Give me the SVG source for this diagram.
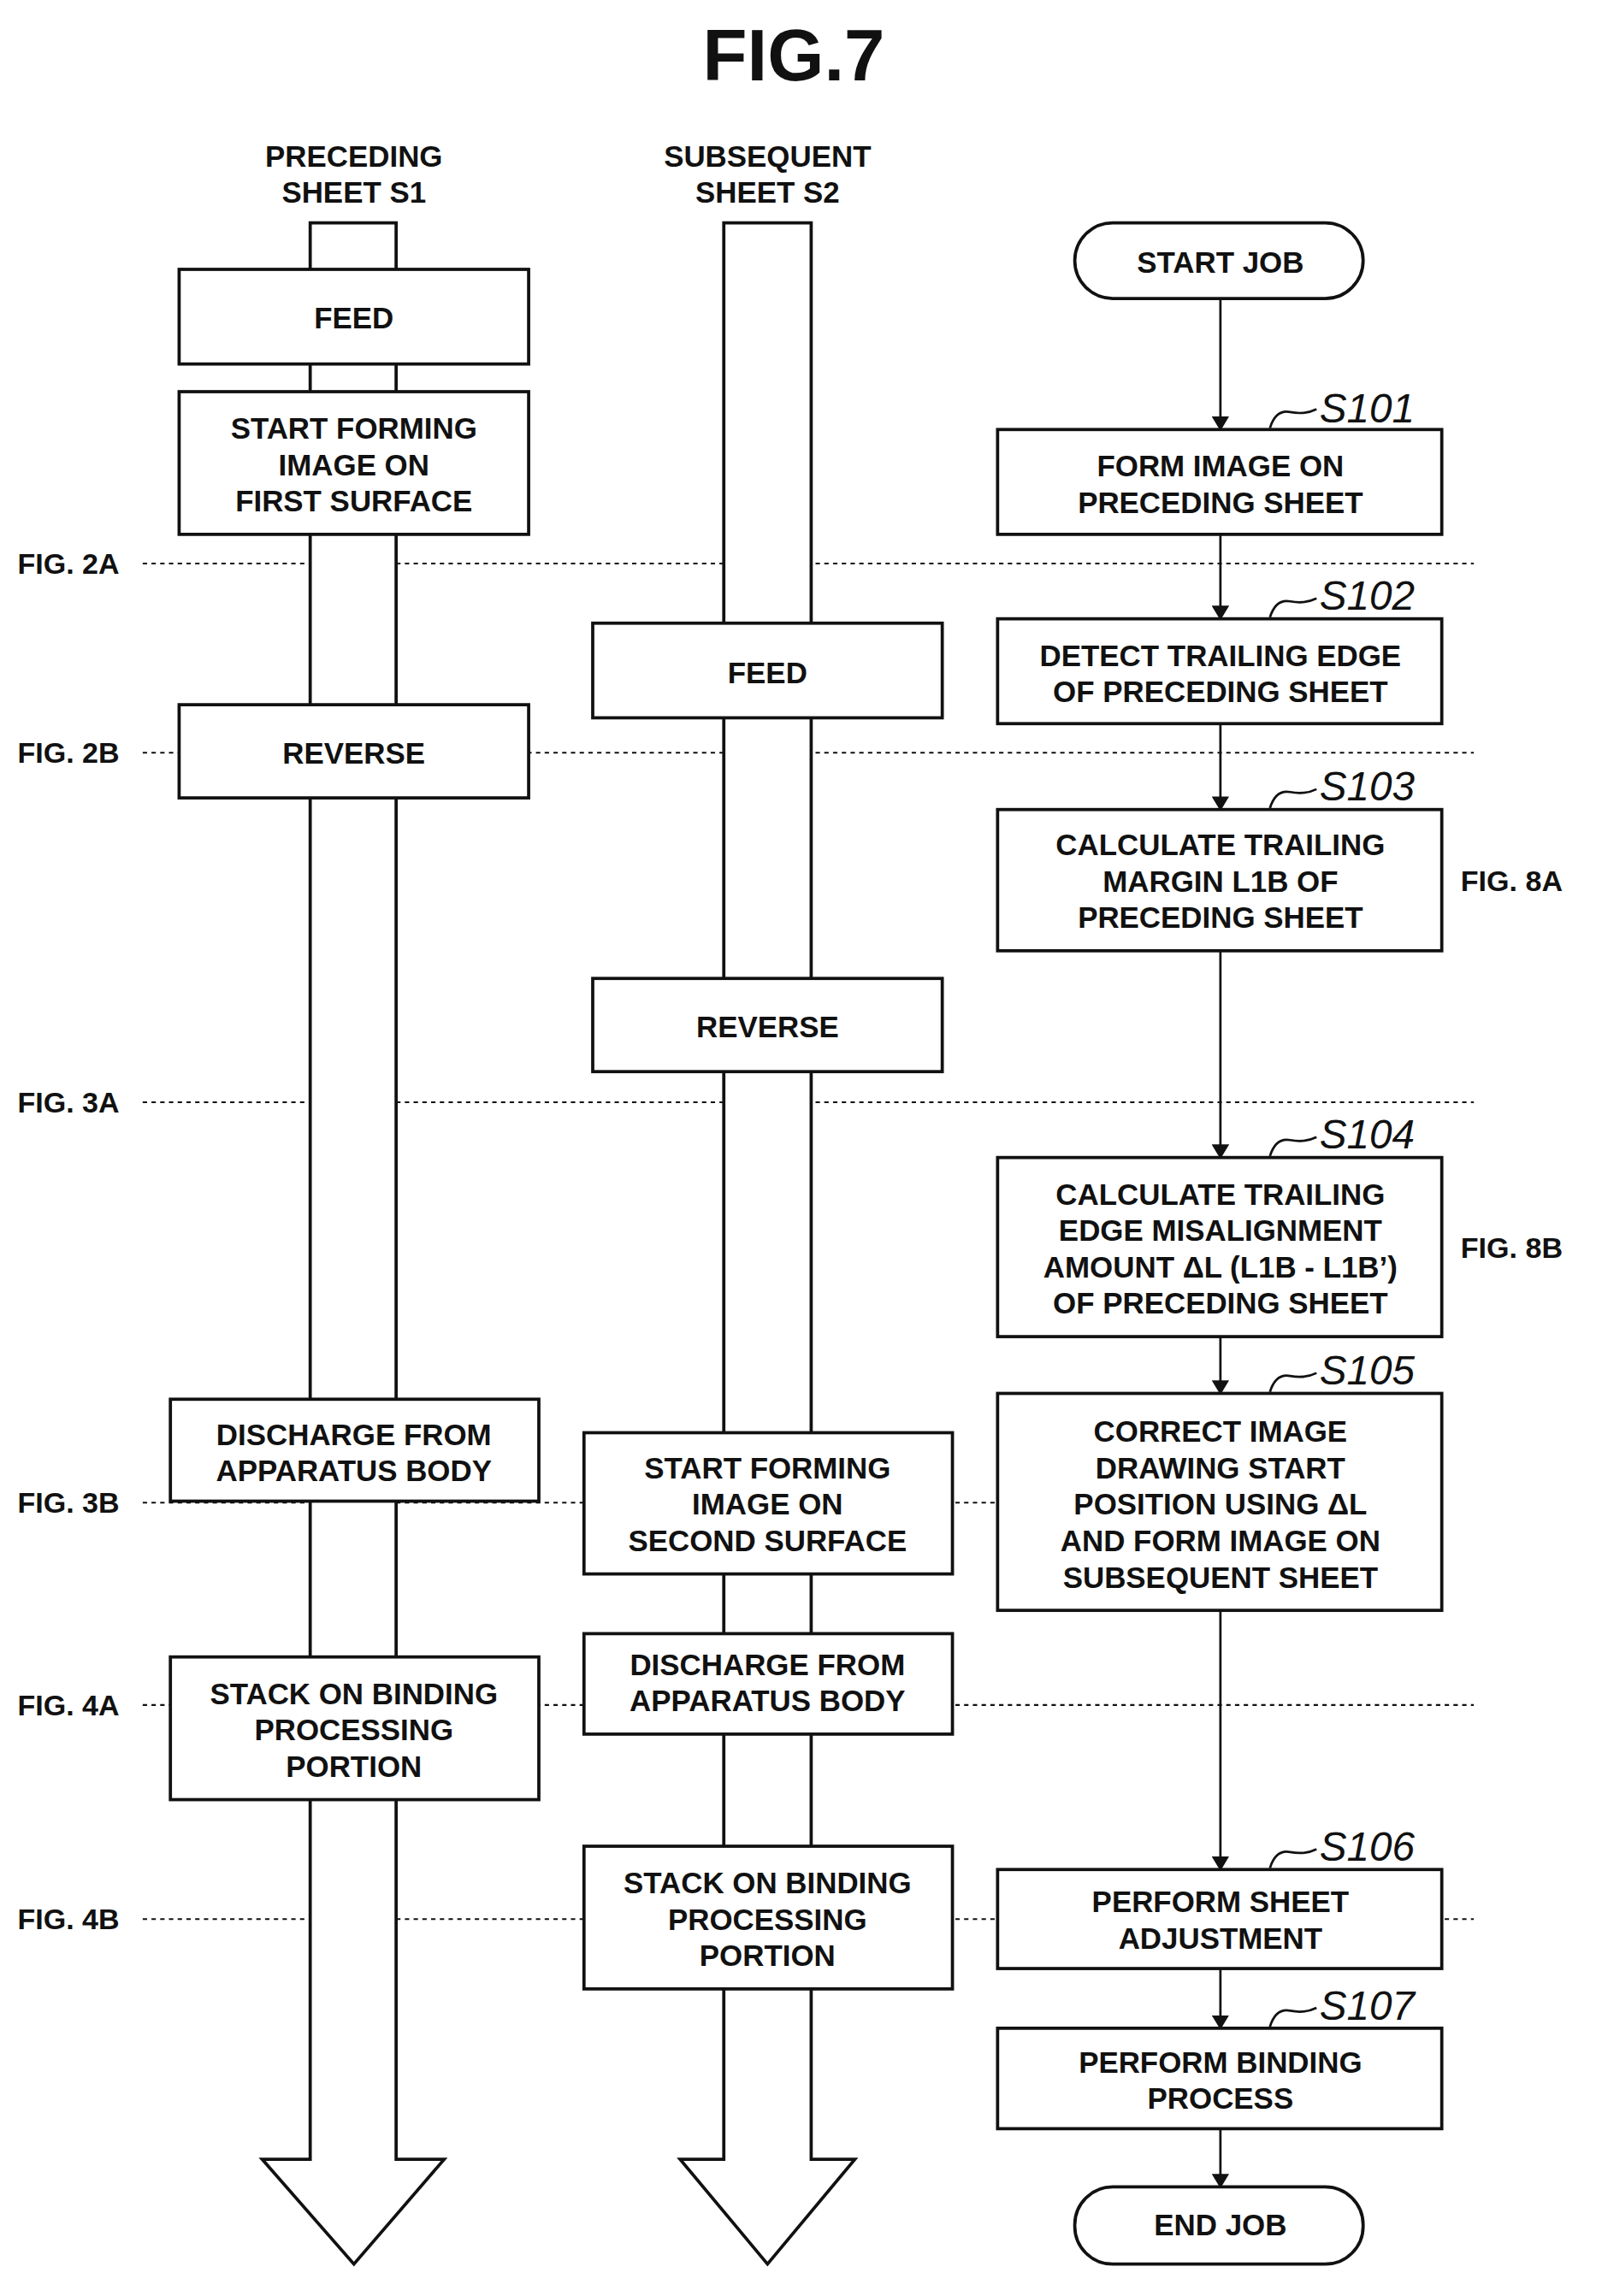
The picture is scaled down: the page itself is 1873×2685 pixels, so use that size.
<svg xmlns="http://www.w3.org/2000/svg" width="1873" height="2685" viewBox="0 0 1873 2685">
<style>
.t{font-family:"Liberation Sans",Arial,sans-serif;font-weight:bold;font-size:20.5px;text-anchor:middle;dominant-baseline:central;fill:#111}
.l{font-family:"Liberation Sans",Arial,sans-serif;font-weight:bold;font-size:20px;dominant-baseline:central;fill:#111}
.s{font-family:"Liberation Sans",Arial,sans-serif;font-style:italic;font-size:28px;fill:#111}
.b{fill:#fff;stroke:#111;stroke-width:2.2}
.d{stroke:#111;stroke-width:1.2;stroke-dasharray:3 3;fill:none}
.c{stroke:#111;stroke-width:1.6;fill:none}
</style>
<defs><marker id="ah" markerWidth="10" markerHeight="12" refX="9" refY="6" orient="auto" markerUnits="userSpaceOnUse"><path d="M0,0 L10,6 L0,12 z" fill="#111"/></marker></defs>
<rect width="1873" height="2685" fill="#fff"/>
<g transform="scale(1.7027)">
<text x="545" y="38" class="t" style="font-size:50px">FIG.7</text>
<g id="guides">
<text x="12" y="387" class="l">FIG. 2A</text><line x1="98" y1="387" x2="1012" y2="387" class="d"/>
<text x="12" y="517" class="l">FIG. 2B</text><line x1="98" y1="517" x2="1012" y2="517" class="d"/>
<text x="12" y="757" class="l">FIG. 3A</text><line x1="98" y1="757" x2="1012" y2="757" class="d"/>
<text x="12" y="1032" class="l">FIG. 3B</text><line x1="98" y1="1032" x2="685" y2="1032" class="d"/>
<text x="12" y="1171" class="l">FIG. 4A</text><line x1="98" y1="1171" x2="1012" y2="1171" class="d"/>
<text x="12" y="1318" class="l">FIG. 4B</text><line x1="98" y1="1318" x2="1012" y2="1318" class="d"/>
<text x="1003" y="605" class="l">FIG. 8A</text>
<text x="1003" y="857" class="l">FIG. 8B</text>
</g>
<g id="lane1">
<text x="243" y="107" class="t">PRECEDING</text><text x="243" y="132" class="t">SHEET S1</text>
<path d="M213,153 H272 V1483 H305 L243,1555 L180,1483 H213 Z" class="b" stroke-width="1.6"/>
</g>
<g id="lane2">
<text x="527" y="107" class="t">SUBSEQUENT</text><text x="527" y="132" class="t">SHEET S2</text>
<path d="M497,153 H557 V1483 H587 L527,1555 L467,1483 H497 Z" class="b" stroke-width="1.6"/>
</g>
<g id="a1"><rect x="123" y="185" width="240" height="65" class="b"/><text x="243" y="218" class="t">FEED</text></g>
<g id="a2"><rect x="123" y="269" width="240" height="98" class="b"/><text x="243" y="294" class="t">START FORMING</text><text x="243" y="319" class="t">IMAGE ON</text><text x="243" y="344" class="t">FIRST SURFACE</text></g>
<g id="a3"><rect x="123" y="484" width="240" height="64" class="b"/><text x="243" y="517" class="t">REVERSE</text></g>
<g id="a4"><rect x="117" y="961" width="253" height="70" class="b"/><text x="243" y="985" class="t">DISCHARGE FROM</text><text x="243" y="1010" class="t">APPARATUS BODY</text></g>
<g id="a5"><rect x="117" y="1138" width="253" height="98" class="b"/><text x="243" y="1163" class="t">STACK ON BINDING</text><text x="243" y="1188" class="t">PROCESSING</text><text x="243" y="1213" class="t">PORTION</text></g>
<g id="b1"><rect x="407" y="428" width="240" height="65" class="b"/><text x="527" y="462" class="t">FEED</text></g>
<g id="b2"><rect x="407" y="672" width="240" height="64" class="b"/><text x="527" y="705" class="t">REVERSE</text></g>
<g id="b3"><rect x="401" y="984" width="253" height="97" class="b"/><text x="527" y="1008" class="t">START FORMING</text><text x="527" y="1033" class="t">IMAGE ON</text><text x="527" y="1058" class="t">SECOND SURFACE</text></g>
<g id="b4"><rect x="401" y="1122" width="253" height="69" class="b"/><text x="527" y="1143" class="t">DISCHARGE FROM</text><text x="527" y="1168" class="t">APPARATUS BODY</text></g>
<g id="b5"><rect x="401" y="1268" width="253" height="98" class="b"/><text x="527" y="1293" class="t">STACK ON BINDING</text><text x="527" y="1318" class="t">PROCESSING</text><text x="527" y="1343" class="t">PORTION</text></g>
<g id="connectors">
<line x1="838" y1="205" x2="838" y2="295" class="c" marker-end="url(#ah)"/>
<line x1="838" y1="367" x2="838" y2="425" class="c" marker-end="url(#ah)"/>
<line x1="838" y1="497" x2="838" y2="556" class="c" marker-end="url(#ah)"/>
<line x1="838" y1="653" x2="838" y2="795" class="c" marker-end="url(#ah)"/>
<line x1="838" y1="918" x2="838" y2="957" class="c" marker-end="url(#ah)"/>
<line x1="838" y1="1106" x2="838" y2="1284" class="c" marker-end="url(#ah)"/>
<line x1="838" y1="1352" x2="838" y2="1393" class="c" marker-end="url(#ah)"/>
<line x1="838" y1="1462" x2="838" y2="1502" class="c" marker-end="url(#ah)"/>
</g>
<g id="start"><rect x="738" y="153" width="198" height="52" rx="26" class="b"/><text x="838" y="180" class="t">START JOB</text></g>
<g id="s101"><rect x="685" y="295" width="305" height="72" class="b"/><text x="838" y="320" class="t">FORM IMAGE ON</text><text x="838" y="345" class="t">PRECEDING SHEET</text>
<path d="M872,294 q4,-13 14,-11 q10,2 18,-2" class="c" stroke-width="1.2"/><text x="906" y="290" class="s">S101</text></g>
<g id="s102"><rect x="685" y="425" width="305" height="72" class="b"/><text x="838" y="450" class="t">DETECT TRAILING EDGE</text><text x="838" y="475" class="t">OF PRECEDING SHEET</text>
<path d="M872,424 q4,-13 14,-11 q10,2 18,-2" class="c" stroke-width="1.2"/><text x="906" y="419" class="s">S102</text></g>
<g id="s103"><rect x="685" y="556" width="305" height="97" class="b"/><text x="838" y="580" class="t">CALCULATE TRAILING</text><text x="838" y="605" class="t">MARGIN L1B OF</text><text x="838" y="630" class="t">PRECEDING SHEET</text>
<path d="M872,555 q4,-13 14,-11 q10,2 18,-2" class="c" stroke-width="1.2"/><text x="906" y="550" class="s">S103</text></g>
<g id="s104"><rect x="685" y="795" width="305" height="123" class="b"/><text x="838" y="820" class="t">CALCULATE TRAILING</text><text x="838" y="845" class="t">EDGE MISALIGNMENT</text><text x="838" y="870" class="t">AMOUNT ΔL (L1B - L1B’)</text><text x="838" y="895" class="t">OF PRECEDING SHEET</text>
<path d="M872,794 q4,-13 14,-11 q10,2 18,-2" class="c" stroke-width="1.2"/><text x="906" y="789" class="s">S104</text></g>
<g id="s105"><rect x="685" y="957" width="305" height="149" class="b"/><text x="838" y="983" class="t">CORRECT IMAGE</text><text x="838" y="1008" class="t">DRAWING START</text><text x="838" y="1033" class="t">POSITION USING ΔL</text><text x="838" y="1058" class="t">AND FORM IMAGE ON</text><text x="838" y="1083" class="t">SUBSEQUENT SHEET</text>
<path d="M872,956 q4,-13 14,-11 q10,2 18,-2" class="c" stroke-width="1.2"/><text x="906" y="951" class="s">S105</text></g>
<g id="s106"><rect x="685" y="1284" width="305" height="68" class="b"/><text x="838" y="1306" class="t">PERFORM SHEET</text><text x="838" y="1331" class="t">ADJUSTMENT</text>
<path d="M872,1283 q4,-13 14,-11 q10,2 18,-2" class="c" stroke-width="1.2"/><text x="906" y="1278" class="s">S106</text></g>
<g id="s107"><rect x="685" y="1393" width="305" height="69" class="b"/><text x="838" y="1416" class="t">PERFORM BINDING</text><text x="838" y="1441" class="t">PROCESS</text>
<path d="M872,1392 q4,-13 14,-11 q10,2 18,-2" class="c" stroke-width="1.2"/><text x="906" y="1387" class="s">S107</text></g>
<g id="end"><rect x="738" y="1502" width="198" height="53" rx="26" class="b"/><text x="838" y="1528" class="t">END JOB</text></g>
</g>
</svg>
